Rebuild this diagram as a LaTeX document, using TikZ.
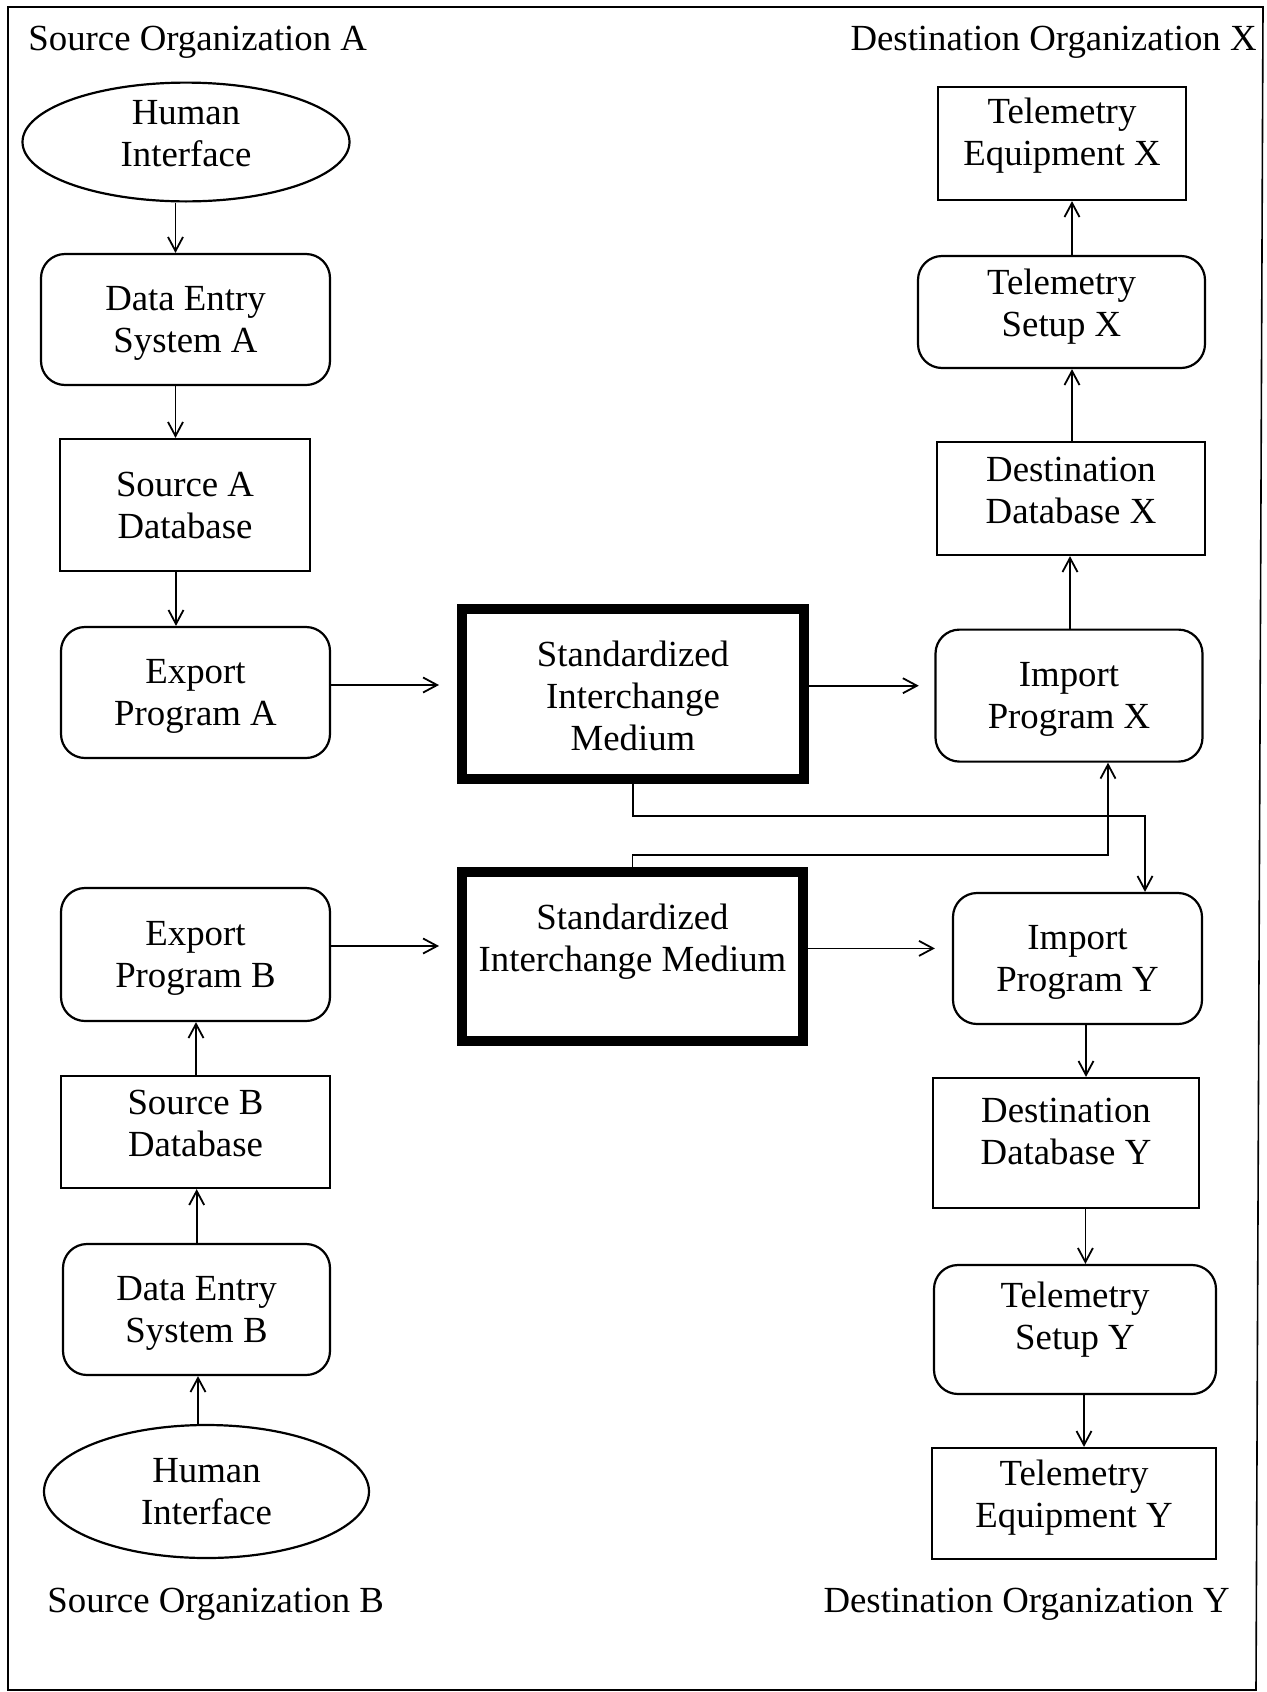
\documentclass[tikz,border=0pt]{standalone}
\usepackage{fontspec}
\setmainfont{Liberation Serif}
\usetikzlibrary{arrows.meta,shapes.geometric}
\newcommand{\rzt}[2]{\raisebox{#1}[\height][\depth]{\begin{tabular}{@{}c@{}}#2\end{tabular}}}
\begin{document}
\begin{tikzpicture}[x=0.5pt,y=-0.5pt,
  txt/.style={font=\fontsize{18.4}{21}\selectfont},
  boxbase/.style={txt, draw, line width=1.1pt, align=center, inner sep=0pt},
  sz/.style 2 args={minimum width={#1*0.5pt}, minimum height={#2*0.5pt}},
  rbox/.style={boxbase, rectangle, rounded corners=12pt},
  sbox/.style={boxbase, rectangle},
  ebox/.style={boxbase, ellipse},
  simbox/.style={boxbase, rectangle, line width=5pt},
  arr/.style={line width=0.9pt, -{Straight Barb[length=7pt,width=7.5pt]}},
  lbl/.style={txt, inner sep=0pt},
  frameline/.style={line width=0.8pt}
]
\useasboundingbox (0,0) rectangle (1267,1692);
\draw[frameline] (8,7) -- (1263,7) -- (1256,1690) -- (8,1690) -- cycle;

% labels
\node[lbl, anchor=base west] (orgA) at (28,50) {Source Organization A};
\node[lbl, anchor=base east] (orgX) at (1257,50) {Destination Organization X};
\node[lbl, anchor=base west] (orgB) at (47,1612) {Source Organization B};
\node[lbl, anchor=base east] (orgY) at (1230,1612) {Destination Organization Y};

% source A
\node[ebox, sz={327}{109}] (ellA) at (186,142) {\rzt{2.6pt}{Human\\Interface}};
\node[rbox, sz={289}{131}] (deA) at (185.5,319.5) {\rzt{-1.9pt}{Data Entry\\System A}};
\node[sbox, sz={250}{132}] (srcA) at (185,505) {\rzt{-1.9pt}{Source A\\Database}};
\node[rbox, sz={269}{131}] (expA) at (195.5,692.5) {\rzt{-1.9pt}{Export\\Program A}};

% media
\node[simbox, sz={342}{170}] (sim1) at (633,694) {\rzt{-3pt}{Standardized\\Interchange\\Medium}};
\node[simbox, sz={341}{169}] (sim2) at (632.5,956.5) {\rzt{7.1pt}{Standardized\\Interchange Medium}};

% destination X
\node[rbox, sz={267}{132}] (impX) at (1069,695.6) {\rzt{-1.9pt}{Import\\Program X}};
\node[sbox, sz={268}{113}] (ddbX) at (1071,498.5) {\rzt{2.4pt}{Destination\\Database X}};
\node[rbox, sz={287}{112}] (tsX) at (1061.5,312) {\rzt{2.6pt}{Telemetry\\Setup X}};
\node[sbox, sz={248}{113}] (teX) at (1062,143.5) {\rzt{3.5pt}{Telemetry\\Equipment X}};

% source B
\node[rbox, sz={269}{133}] (expB) at (195.5,954.5) {\rzt{-1.9pt}{Export\\Program B}};
\node[sbox, sz={269}{112}] (srcB) at (195.5,1132) {\rzt{2.6pt}{Source B\\Database}};
\node[rbox, sz={267}{131}] (deB) at (196.5,1309.5) {\rzt{-1.9pt}{Data Entry\\System B}};
\node[ebox, sz={325}{133}] (ellB) at (206.5,1491.5) {\rzt{-1.9pt}{Human\\Interface}};

% destination Y
\node[rbox, sz={249}{131}] (impY) at (1077.5,958.5) {\rzt{-1.9pt}{Import\\Program Y}};
\node[sbox, sz={266}{130}] (ddbY) at (1066,1143) {\rzt{4.1pt}{Destination\\Database Y}};
\node[rbox, sz={282}{129}] (tsY) at (1075,1329.5) {\rzt{4.6pt}{Telemetry\\Setup Y}};
\node[sbox, sz={284.5}{111}] (teY) at (1074,1503.5) {\rzt{2.6pt}{Telemetry\\Equipment Y}};

% connectors
\draw[arr] ([xshift=-5.25pt]ellA.south) -- ([xshift=-5pt]deA.north);
\draw[arr] ([xshift=-5pt]deA.south) -- ([xshift=-4.75pt]srcA.north);
\draw[arr] ([xshift=-4.5pt]srcA.south) -- ([xshift=-9.75pt]expA.north);
\draw[arr] ([yshift=3.75pt]expA.east) -- ([xshift=-9pt,yshift=4.5pt]sim1.west);
\draw[arr] ([yshift=4.15pt]sim1.east) -- ([xshift=-7.8pt,yshift=4.95pt]impX.west);
\draw[arr] ([xshift=0.5pt]impX.north) -- ([xshift=-0.5pt]ddbX.south);
\draw[arr] ([xshift=0.5pt]ddbX.north) -- ([xshift=5.25pt]tsX.south);
\draw[arr] ([xshift=5.25pt]tsX.north) -- ([xshift=5pt]teX.south);

\coordinate (j1) at (1145,816);
\coordinate (j2) at (1108,854.6);
\draw[arr] (sim1.south) |- (j1) -- (impY.north -| j1);
\draw[arr] (sim2.north) |- (j2) -- (impX.south -| j2);

\draw[arr] ([yshift=4.25pt]expB.east) -- ([xshift=-9pt,yshift=5.25pt]sim2.west);
\draw[arr] ([yshift=4.05pt]sim2.east) -- ([xshift=-8.5pt,yshift=5.05pt]impY.west);
\draw[arr] ([xshift=4.25pt]impY.south) -- ([xshift=10pt]ddbY.north);
\draw[arr] ([xshift=9.7pt]ddbY.south) -- ([xshift=5.2pt]tsY.north);
\draw[arr] ([xshift=4.5pt]tsY.south) -- ([xshift=5pt]teY.north);

\draw[arr] ([xshift=0.25pt]srcB.north) -- ([xshift=0.25pt]expB.south);
\draw[arr] ([xshift=0.1pt]deB.north) -- ([xshift=0.6pt]srcB.south);
\draw[arr] ([xshift=-4.25pt]ellB.north) -- ([xshift=0.75pt]deB.south);
\end{tikzpicture}
\end{document}
